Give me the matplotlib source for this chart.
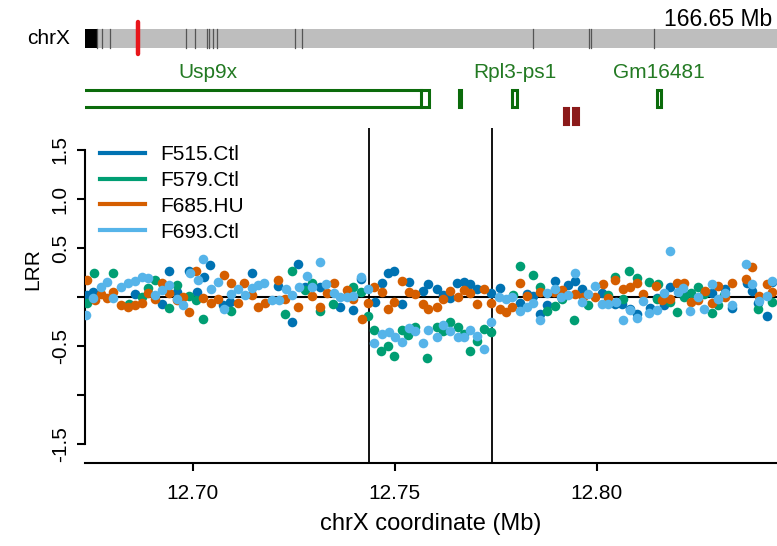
import matplotlib
matplotlib.use("Agg")
import matplotlib.pyplot as plt
from matplotlib.patches import Rectangle
from matplotlib.lines import Line2D

plt.rcParams['font.family'] = ['Liberation Sans', 'DejaVu Sans']

# ---- data -------------------------------------------------------------
# LRR per sample (position in Mb, log R ratio)
f515_x = [12.6738, 12.6752, 12.6856, 12.6923, 12.6941, 12.6960, 12.6990, 12.7010, 12.7027, 12.7042,
          12.7074, 12.7092, 12.7146, 12.7210, 12.7245, 12.7260, 12.7277, 12.7314, 12.7364, 12.7396,
          12.7416, 12.7450, 12.7468, 12.7483, 12.7498, 12.7517, 12.7535, 12.7569, 12.7582, 12.7604,
          12.7619, 12.7636, 12.7653, 12.7671, 12.7686, 12.7703, 12.7738, 12.7760, 12.7809, 12.7827,
          12.7842, 12.7859, 12.7876, 12.7896, 12.7928, 12.7946, 12.7963, 12.8012, 12.8045, 12.8062,
          12.8082, 12.8099, 12.8131, 12.8148, 12.8166, 12.8181, 12.8215, 12.8285, 12.8317, 12.8334,
          12.8371, 12.8384, 12.8398, 12.8421, 12.8433]
f515_y = [0.02, 0.05, 0.03, -0.07, 0.27, 0.05, 0.27, 0.05, 0.20, 0.33,
          -0.08, -0.05, 0.24, 0.11, -0.26, 0.34, 0.10, 0.10, -0.10, -0.13,
          0.18, -0.05, 0.14, 0.24, 0.27, -0.07, 0.15, 0.06, 0.13, 0.08,
          0.02, -0.01, 0.14, 0.15, 0.13, 0.08, 0.04, 0.09, -0.06, 0.03,
          0.01, -0.17, -0.08, 0.16, 0.12, 0.16, 0.08, 0.04, -0.07, -0.07,
          -0.12, -0.17, -0.11, -0.01, -0.08, 0.10, 0.02, 0.04, 0.08, -0.11,
          0.14, 0.06, -0.06, -0.19, 0.15]

f579_x = [12.6738, 12.6755, 12.6802, 12.6842, 12.6874, 12.6889, 12.6906, 12.6941, 12.6960, 12.6990,
          12.7007, 12.7025, 12.7094, 12.7228, 12.7245, 12.7277, 12.7295, 12.7314, 12.7347, 12.7396,
          12.7416, 12.7433, 12.7448, 12.7465, 12.7483, 12.7498, 12.7517, 12.7532, 12.7549, 12.7579,
          12.7604, 12.7619, 12.7636, 12.7656, 12.7671, 12.7686, 12.7703, 12.7720, 12.7738, 12.7792,
          12.7809, 12.7842, 12.7859, 12.7876, 12.7896, 12.7913, 12.7943, 12.7978, 12.8027, 12.8045,
          12.8064, 12.8079, 12.8099, 12.8129, 12.8148, 12.8151, 12.8181, 12.8198, 12.8215, 12.8233,
          12.8250, 12.8265, 12.8285, 12.8299, 12.8314, 12.8398, 12.8433]
f579_y = [-0.06, 0.24, 0.24, -0.07, 0.00, 0.09, 0.17, -0.11, 0.12, 0.01,
          -0.03, -0.22, -0.14, -0.17, 0.26, 0.07, 0.14, -0.14, -0.07, 0.10,
          0.05, -0.19, -0.34, -0.55, -0.50, -0.60, -0.34, -0.39, -0.31, -0.62,
          -0.31, -0.35, -0.26, -0.31, -0.38, -0.55, -0.45, -0.33, -0.36, 0.02,
          0.32, 0.22, 0.10, -0.14, -0.09, -0.02, -0.24, -0.08, 0.02, 0.20,
          -0.02, 0.27, 0.19, 0.15, -0.02, 0.13, -0.05, -0.15, 0.00, 0.04,
          0.10, 0.03, -0.16, -0.08, 0.02, -0.12, -0.05]

f685_x = [12.6738, 12.6757, 12.6772, 12.6787, 12.6802, 12.6822, 12.6839, 12.6856, 12.6874, 12.6889,
          12.6906, 12.6923, 12.6941, 12.6960, 12.6975, 12.6990, 12.7007, 12.7025, 12.7045, 12.7062,
          12.7077, 12.7094, 12.7111, 12.7126, 12.7146, 12.7161, 12.7178, 12.7210, 12.7228, 12.7260,
          12.7295, 12.7314, 12.7332, 12.7349, 12.7381, 12.7396, 12.7418, 12.7433, 12.7448, 12.7468,
          12.7483, 12.7498, 12.7517, 12.7535, 12.7549, 12.7569, 12.7582, 12.7604, 12.7619, 12.7636,
          12.7656, 12.7671, 12.7686, 12.7703, 12.7720, 12.7738, 12.7760, 12.7775, 12.7790, 12.7809,
          12.7827, 12.7859, 12.7894, 12.7913, 12.7946, 12.7965, 12.7995, 12.8015, 12.8027, 12.8045,
          12.8064, 12.8082, 12.8099, 12.8114, 12.8146, 12.8161, 12.8181, 12.8198, 12.8215, 12.8233,
          12.8250, 12.8267, 12.8285, 12.8299, 12.8317, 12.8334, 12.8369, 12.8384, 12.8401, 12.8421,
          12.8433]
f685_y = [0.17, -0.03, 0.03, -0.01, 0.05, -0.08, -0.10, -0.08, -0.06, 0.04,
          -0.02, 0.14, 0.04, -0.03, 0.00, -0.15, 0.26, -0.01, -0.06, -0.02,
          0.22, 0.14, -0.06, 0.14, 0.02, -0.10, -0.06, 0.17, -0.02, -0.10,
          0.01, -0.10, 0.04, 0.14, 0.07, -0.02, -0.22, -0.06, 0.10, 0.05,
          -0.12, -0.05, 0.16, 0.05, 0.03, -0.07, -0.12, -0.10, -0.02, 0.06,
          0.00, 0.07, 0.04, -0.07, 0.08, -0.06, -0.12, -0.15, -0.10, 0.14,
          0.01, 0.05, 0.05, 0.07, 0.03, 0.00, 0.00, 0.13, -0.01, 0.17,
          0.08, 0.10, 0.14, 0.03, 0.11, -0.03, -0.02, 0.14, 0.14, -0.05,
          -0.03, 0.06, -0.06, 0.11, 0.00, 0.14, 0.18, 0.31, 0.01, 0.13,
          0.05]

f693_x = [12.6735, 12.6752, 12.6772, 12.6787, 12.6802, 12.6822, 12.6839, 12.6856, 12.6874, 12.6889,
          12.6906, 12.6923, 12.6941, 12.6960, 12.6975, 12.6993, 12.7012, 12.7025, 12.7045, 12.7062,
          12.7077, 12.7094, 12.7111, 12.7129, 12.7146, 12.7161, 12.7176, 12.7196, 12.7213, 12.7230,
          12.7245, 12.7262, 12.7282, 12.7295, 12.7314, 12.7329, 12.7349, 12.7364, 12.7381, 12.7396,
          12.7416, 12.7433, 12.7448, 12.7468, 12.7485, 12.7500, 12.7517, 12.7535, 12.7549, 12.7569,
          12.7582, 12.7604, 12.7619, 12.7636, 12.7656, 12.7671, 12.7686, 12.7703, 12.7720, 12.7738,
          12.7757, 12.7775, 12.7790, 12.7809, 12.7827, 12.7842, 12.7859, 12.7876, 12.7896, 12.7911,
          12.7928, 12.7946, 12.7963, 12.7978, 12.7995, 12.8012, 12.8027, 12.8047, 12.8064, 12.8082,
          12.8099, 12.8114, 12.8129, 12.8148, 12.8166, 12.8181, 12.8200, 12.8213, 12.8230, 12.8250,
          12.8265, 12.8285, 12.8299, 12.8317, 12.8334, 12.8369, 12.8384, 12.8401, 12.8421, 12.8433]
f693_y = [-0.18, -0.01, 0.10, 0.15, -0.01, 0.10, 0.14, 0.16, 0.20, 0.19,
          0.02, 0.07, 0.12, -0.02, -0.08, 0.24, 0.17, 0.39, 0.08, 0.15,
          -0.12, 0.03, 0.08, 0.02, 0.09, 0.12, 0.14, -0.03, -0.03, 0.08,
          0.02, 0.10, 0.21, 0.10, 0.36, 0.13, 0.04, 0.00, 0.00, 0.01,
          0.20, 0.08, -0.47, -0.38, -0.36, -0.41, -0.46, -0.32, -0.35, -0.47,
          -0.34, -0.41, -0.29, -0.35, -0.41, -0.41, -0.34, -0.40, -0.53, -0.26,
          0.00, -0.02, 0.00, -0.14, -0.10, -0.06, -0.24, 0.04, 0.08, 0.00,
          0.02, 0.24, -0.05, 0.03, 0.11, -0.07, -0.07, -0.05, -0.23, -0.13,
          -0.21, -0.04, -0.16, -0.13, 0.04, 0.47, 0.05, 0.09, -0.14, 0.00,
          -0.12, 0.13, -0.02, 0.04, -0.08, 0.34, 0.13, -0.04, 0.01, 0.16]

samples = ['F515.Ctl', 'F579.Ctl', 'F685.HU', 'F693.Ctl']
colors = ['#0072B2', '#009E73', '#D55E00', '#56B4E9']

# region boundaries (Mb)
breakpoints = [12.7437, 12.7741]
x_range = (12.6733, 12.8446)
x_ticks = [12.70, 12.75, 12.80]

# genes (Mb)
gene_labels = ['Usp9x', '', 'Rpl3-ps1', 'Gm16481']
gene_start = [12.6490, 12.7659, 12.7791, 12.8148]
gene_end = [12.7585, 12.7665, 12.7802, 12.8158]
utr_start = [12.7565, None, None, None]
other_start = [12.7919, 12.7942]
other_end = [12.7932, 12.7955]

# chromosome ideogram (Mb)
chr_len = 166.65
cen_end = 2.9
bands = [2.9, 4.1, 6.0, 24.3, 26.5, 29.4, 29.9, 30.8, 31.8, 50.6, 52.3,
         107.9, 121.4, 121.9, 137.0]

# ---- figure -----------------------------------------------------------
W, H = 777, 546
fig = plt.figure(figsize=(W / 100, H / 100), dpi=100)


def box(left, top, right, bottom):
    return [left / W, 1 - bottom / H, (right - left) / W, (bottom - top) / H]


green = '#0b6b0b'
fs = 15

# ideogram
iax = fig.add_axes(box(85, 18, 777, 58))
iax.set_xlim(0, chr_len)
iax.set_ylim(0, 1)
iax.axis('off')
iax.add_patch(Rectangle((0, 0.25), chr_len, 0.475, fc='#bebebe', ec='none'))
iax.add_patch(Rectangle((0, 0.25), cen_end, 0.475, fc='black', ec='none'))
for b in bands:
    iax.plot([b, b], [0.25, 0.725], color='#555555', lw=0.9)
mid = (x_range[0] + x_range[1]) / 2
iax.plot([mid, mid], [0.1, 0.9], color='#e8161b', lw=3.2, solid_capstyle='round')
fig.text(70 / W, 1 - 38 / H, 'chrX', ha='right', va='center', fontsize=fs)
fig.text(772 / W, 1 - 20 / H, '%.2f Mb' % chr_len, ha='right', va='center', fontsize=16.5)

# gene track
gax = fig.add_axes(box(85, 60, 777, 128))
gax.set_xlim(*x_range)
gax.set_ylim(0, 1)
gax.axis('off')
for lab, s, e, u in zip(gene_labels, gene_start, gene_end, utr_start):
    gax.add_patch(Rectangle((s, 0.31), e - s, 0.25, fill=False, ec=green, lw=2.2))
    if u is not None:
        gax.plot([u, u], [0.31, 0.56], color=green, lw=2.2)
    if lab:
        gax.text((s + e) / 2, 0.81, lab, ha='center', va='center', color='#237a23', fontsize=fs)
for s, e in zip(other_start, other_end):
    gax.add_patch(Rectangle((s, 0.04), e - s, 0.25, fc='#8b1a1a', ec='#8b1a1a', lw=1.5))

# LRR panel
ax = fig.add_axes(box(85, 128, 777, 463))
xs = [f515_x, f579_x, f685_x, f693_x]
ys = [f515_y, f579_y, f685_y, f693_y]
for x, y, c in zip(xs, ys, colors):
    ax.scatter(x, y, s=48, color=c, linewidths=0, zorder=3)
ax.axhline(0, color='black', lw=1.5, zorder=2)
for b in breakpoints:
    ax.axvline(b, color='black', lw=1.3, zorder=2)

ax.set_xlim(*x_range)
ax.set_ylim(-1.694, 1.724)
ax.spines['top'].set_visible(False)
ax.spines['right'].set_visible(False)
ax.spines['left'].set_bounds(-1.5, 1.5)
ax.spines['left'].set_linewidth(1.5)
ax.spines['bottom'].set_linewidth(1.5)

ax.set_xticks(x_ticks)
ax.set_xticklabels(['%.2f' % t for t in x_ticks])
ax.set_yticks([-1.5, -1.0, -0.5, 0, 0.5, 1.0, 1.5])
ax.set_yticklabels(['-1.5', '', '-0.5', '', '0.5', '1.0', '1.5'], rotation=90, va='center')
ax.tick_params(length=6, width=1.5, labelsize=fs)
ax.tick_params(axis='x', pad=9)
ax.tick_params(axis='y', pad=5)
ax.set_xlabel('chrX coordinate (Mb)', fontsize=17, labelpad=7)
ax.set_ylabel('LRR', fontsize=fs)
ax.yaxis.set_label_coords(-(85 - 33) / 692, 0.58)
ax.yaxis.label.set_va('center')

handles = [Line2D([], [], color=c, lw=3) for c in colors]
ax.legend(handles, samples, loc='upper left', bbox_to_anchor=(100 / W, 1 - 145 / H),
          bbox_transform=fig.transFigure, frameon=False, fontsize=fs,
          handlelength=2.15, handletextpad=0.72, labelspacing=0.33, borderaxespad=0, borderpad=0)

fig.savefig('out.png', dpi=100)
